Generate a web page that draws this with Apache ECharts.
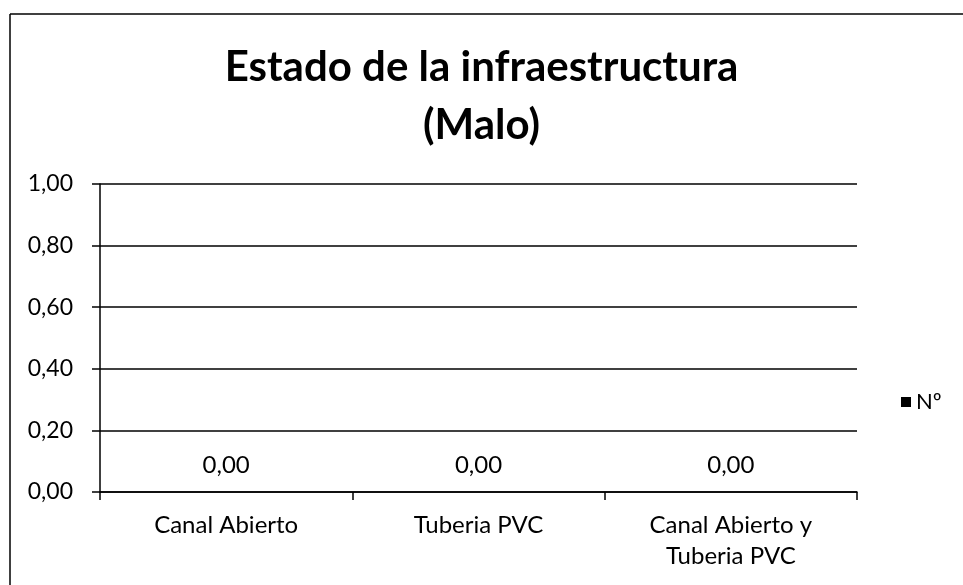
<!DOCTYPE html>
<html>
<head>
<meta charset="utf-8">
<script src="https://cdn.jsdelivr.net/npm/echarts@6/dist/echarts.min.js"></script>
<style>
  html, body { margin: 0; padding: 0; background: #fff; }
  #chart { width: 963px; height: 585px; }
</style>
</head>
<body>
<div id="chart"></div>
<script>
// categories and values
var categories = ["Canal Abierto", "Tuberia PVC", "Canal Abierto y\nTuberia PVC"];
var values = [0, 0, 0];
var seriesName = "Nº";
var titleText = "Estado de la infraestructura\n(Malo)";

var font = "Lato";
function fmt(v) {
  return Number(v).toFixed(2).replace(".", ",");
}

var chart = echarts.init(document.getElementById("chart"));
var option = {
  animation: false,
  backgroundColor: "#fff",
  title: {
    text: titleText,
    left: "center",
    top: 33,
    textStyle: {
      fontFamily: font,
      fontWeight: "bold",
      fontSize: 42,
      lineHeight: 58,
      color: "#000"
    }
  },
  legend: {
    data: [seriesName],
    left: 896,
    top: 386,
    itemWidth: 10,
    itemHeight: 10,
    icon: "rect",
    textStyle: { fontFamily: font, fontSize: 22, color: "#000" }
  },
  grid: {
    left: 100,
    right: 106,
    top: 184,
    bottom: 93
  },
  xAxis: {
    type: "category",
    data: categories,
    axisLine: { lineStyle: { color: "#000", width: 1.5 } },
    axisTick: { show: true, length: 8, lineStyle: { color: "#000", width: 1.5 } },
    axisLabel: {
      margin: 18,
      fontFamily: font,
      fontSize: 24,
      lineHeight: 31,
      color: "#000"
    }
  },
  yAxis: {
    type: "value",
    min: 0,
    max: 1,
    interval: 0.2,
    axisLine: { show: true, lineStyle: { color: "#000", width: 1.5 } },
    axisTick: { show: true, length: 8, lineStyle: { color: "#000", width: 1.5 } },
    splitLine: { show: true, lineStyle: { color: "#000", width: 1.5 } },
    axisLabel: {
      margin: 27,
      fontFamily: font,
      fontSize: 23,
      color: "#000",
      formatter: fmt
    }
  },
  series: [
    {
      name: seriesName,
      type: "bar",
      data: values,
      barWidth: "40%",
      itemStyle: { color: "#000" },
      label: {
        show: true,
        position: "top",
        distance: 15,
        fontFamily: font,
        fontSize: 24,
        color: "#000",
        formatter: function (p) { return fmt(p.value); }
      }
    }
  ],
  graphic: [
    { type: "line", shape: { x1: 10, y1: 14, x2: 963, y2: 14 }, style: { stroke: "#000", lineWidth: 1.5 } },
    { type: "line", shape: { x1: 10, y1: 14, x2: 10, y2: 585 }, style: { stroke: "#000", lineWidth: 1.5 } }
  ]
};
chart.setOption(option);
</script>
</body>
</html>
